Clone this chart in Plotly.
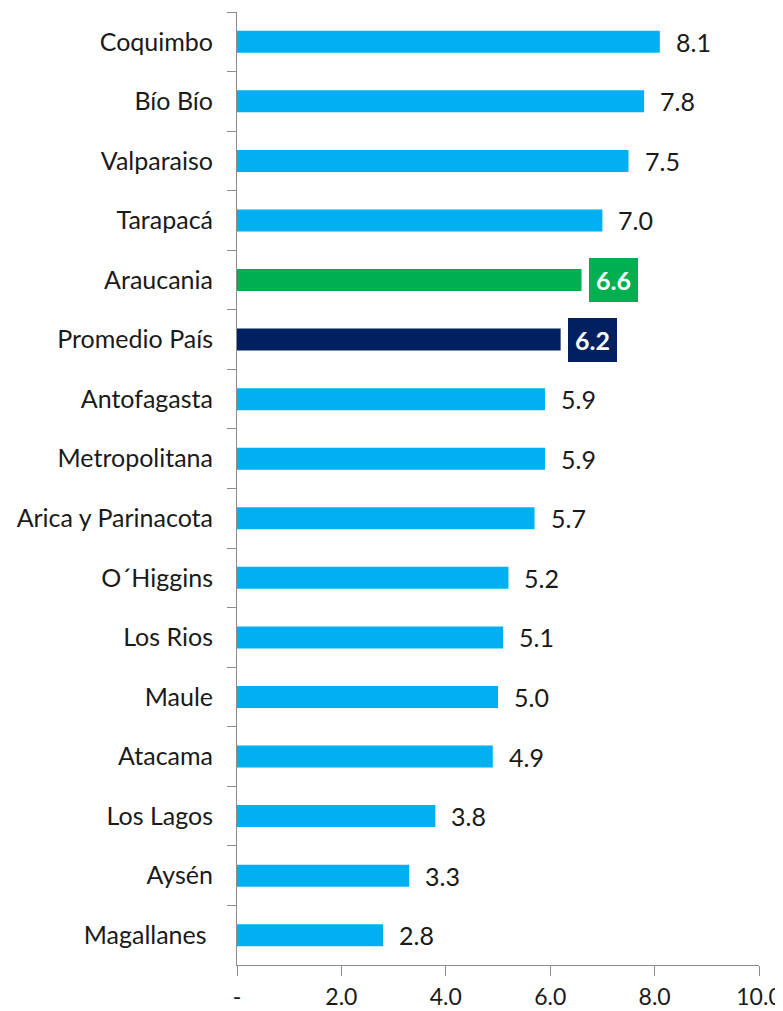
import plotly.graph_objects as go

regions = ["Coquimbo", "Bío Bío", "Valparaiso", "Tarapacá", "Araucania", "Promedio País",
           "Antofagasta", "Metropolitana", "Arica y Parinacota", "O´Higgins", "Los Rios",
           "Maule", "Atacama", "Los Lagos", "Aysén", "Magallanes "]
values = [8.1, 7.8, 7.5, 7.0, 6.6, 6.2, 5.9, 5.9, 5.7, 5.2, 5.1, 5.0, 4.9, 3.8, 3.3, 2.8]
xticks = [0, 2, 4, 6, 8, 10]
xtick_labels = ["-", "2.0", "4.0", "6.0", "8.0", "10.0"]

BLUE = "#00B0F0"
GREEN = "#00B050"
NAVY = "#002060"
colors = [GREEN if r == "Araucania" else NAVY if r == "Promedio País" else BLUE for r in regions]

FONT = "Lato, 'Open Sans', sans-serif"
FS = 25

fig = go.Figure(go.Bar(
    x=values, y=regions, orientation="h",
    marker=dict(color=colors, line=dict(width=0)),
    width=0.37,
))

for r, v, c in zip(regions, values, colors):
    if c == BLUE:
        fig.add_annotation(x=v, y=r, text=f"{v:.1f}", showarrow=False,
                           xanchor="left", xshift=14,
                           font=dict(family=FONT, size=FS, color="#1a1a1a"))
    else:
        fig.add_annotation(x=v, y=r, text=f"<b>{v:.1f}</b>", showarrow=False,
                           xanchor="left", xshift=7, bgcolor=c,
                           borderpad=7, borderwidth=0,
                           font=dict(family=FONT, size=FS, color="white"))

# page body has an 8px margin, so the figure is sized and offset to compensate
fig.update_layout(
    width=775, height=1003,
    margin=dict(l=229, r=24, t=4, b=46),
    plot_bgcolor="white", paper_bgcolor="white",
    showlegend=False,
    font=dict(family=FONT, size=FS, color="#1a1a1a"),
)
fig.update_xaxes(range=[0, 10], tickvals=xticks, ticktext=xtick_labels, automargin=False,
                 showgrid=False, zeroline=False, showline=True, linecolor="#8c8c8c", linewidth=1,
                 ticks="outside", ticklen=10, tickcolor="#8c8c8c", ticklabelstandoff=1,
                 ticklabeloverflow="allow",
                 tickfont=dict(size=23, color="#1a1a1a"))
fig.update_yaxes(categoryorder="array", categoryarray=regions, autorange="reversed", automargin=False,
                 showgrid=False, showline=True, linecolor="#8c8c8c", linewidth=1,
                 ticks="outside", ticklen=9, tickcolor="#8c8c8c", tickson="boundaries",
                 ticklabelstandoff=18,
                 tickfont=dict(size=FS, color="#1a1a1a"))

fig.write_html("out.html")
